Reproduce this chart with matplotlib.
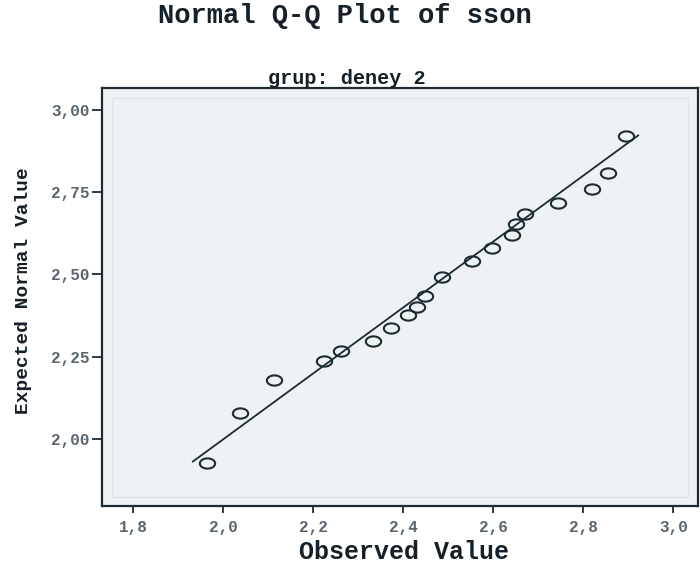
import matplotlib
matplotlib.use("Agg")
import matplotlib.pyplot as plt
import numpy as np
from matplotlib.path import Path
from matplotlib.patches import Rectangle

# observed vs expected normal quantiles
observed = [1.963, 2.036, 2.113, 2.224, 2.261, 2.333, 2.373, 2.410, 2.430, 2.448,
            2.485, 2.552, 2.596, 2.641, 2.650, 2.670, 2.744, 2.819, 2.856, 2.894]
expected = [1.928, 2.080, 2.181, 2.237, 2.268, 2.298, 2.336, 2.377, 2.400, 2.434,
            2.493, 2.542, 2.579, 2.619, 2.653, 2.682, 2.718, 2.758, 2.809, 2.921]
ref_line = [1.932, 2.922]

x_ticks = [1.8, 2.0, 2.2, 2.4, 2.6, 2.8, 3.0]
x_labels = ["1,8", "2,0", "2,2", "2,4", "2,6", "2,8", "3,0"]
y_ticks = [2.00, 2.25, 2.50, 2.75, 3.00]
y_labels = ["2,00", "2,25", "2,50", "2,75", "3,00"]

mono = "Liberation Mono"
dark = "#1c2b33"
tick_c = "#5a6570"
txt_c = "#15202a"

fig = plt.figure(figsize=(7, 5.7), dpi=100)
ax = fig.add_axes([102 / 700, 1 - 506 / 570, 596 / 700, 418 / 570])
ax.set_facecolor("#eff2f4")

# faint inner frame
ax.add_patch(Rectangle((10 / 596, 9 / 418), 1 - 20 / 596, 1 - 19 / 418,
                       transform=ax.transAxes, fill=False, ec="#e0e5e8", lw=1, zorder=1))

# flattened open circle, like the SPSS marker
t = np.linspace(0, 2 * np.pi, 41)
ellipse = Path(np.column_stack([np.cos(t), 0.67 * np.sin(t)]), closed=True)

ax.plot(ref_line, ref_line, color=dark, lw=1.3, zorder=2)
ax.plot(observed, expected, ls="none", marker=ellipse, ms=11,
        mfc="none", mec=dark, mew=1.5, zorder=3)

ax.set_xlim(1.730, 3.055)
ax.set_ylim(1.797, 3.066)
ax.set_xticks(x_ticks, x_labels)
ax.set_yticks(y_ticks, y_labels)

for s in ax.spines.values():
    s.set_color(dark)
    s.set_linewidth(1.6)

ax.tick_params(axis="x", direction="out", length=5, width=1.3, color=dark,
               labelcolor=tick_c, pad=5)
ax.tick_params(axis="y", direction="out", length=7, width=1.3, color=dark,
               labelcolor=tick_c, pad=2)
for lab in ax.get_xticklabels() + ax.get_yticklabels():
    lab.set_fontfamily(mono)
    lab.set_fontsize(11.5)
    lab.set_fontweight("bold")

fig.text(345 / 700, 1 - 16 / 570, "Normal Q-Q Plot of sson", family=mono,
         fontsize=19.5, fontweight="bold", ha="center", va="center", color=txt_c)
fig.text(347 / 700, 1 - 79 / 570, "grup: deney 2", family=mono,
         fontsize=14.5, fontweight="bold", ha="center", va="center", color=txt_c)
fig.text(404 / 700, 1 - 552 / 570, "Observed Value", family=mono,
         fontsize=18, fontweight="bold", ha="center", va="center", color=txt_c)
fig.text(24 / 700, 1 - 291 / 570, "Expected Normal Value", family=mono,
         fontsize=14, fontweight="bold", ha="center", va="center",
         rotation=90, color=txt_c)

fig.savefig("out.png", dpi=100, facecolor="white")
